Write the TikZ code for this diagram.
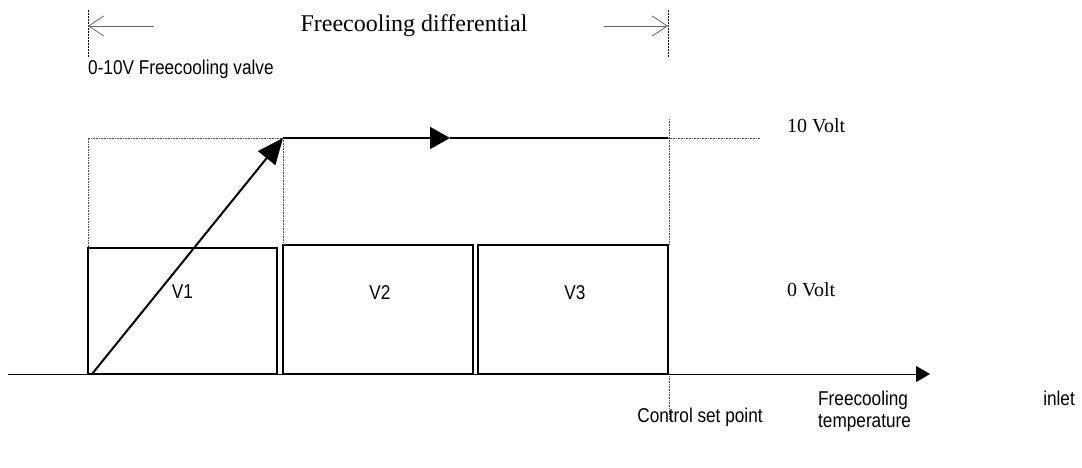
\documentclass[tikz,border=0pt]{standalone}
\usepackage{fontspec}
\setmainfont{Liberation Serif}
\newfontfamily\narrowsans[FakeStretch=0.86]{Liberation Sans}
\usetikzlibrary{arrows.meta,positioning}

\tikzset{
  valvebox/.style={draw, line width=1.6pt, inner sep=0pt},
  sanstext/.style={font=\narrowsans\fontsize{20}{24}\selectfont, inner sep=0pt},
  seriftext/.style={font=\fontsize{20}{24}\selectfont, inner sep=0pt},
  guide/.style={densely dotted, black!70, line width=0.6pt},
  marker/.style={dash pattern=on 2pt off 1pt, line width=0.6pt},
  span/.style={black!60, line width=0.8pt, -{Straight Barb[length=15pt,width=20pt]}},
  signal/.style={line width=2pt},
}

\begin{document}
\begin{tikzpicture}[x=1pt,y=-1pt]
  \useasboundingbox (0,0) rectangle (1082,468);

  % Differential span at the top
  \coordinate (dleft)  at (88,26);
  \coordinate (dright) at (668,26);
  \draw[marker] (88,10) -- (dleft) -- (88,57);
  \draw[marker] (668,10) -- (dright) -- (668,57);
  \draw[span] (154,26) -- (dleft);
  \draw[span] (604,26) -- (dright);
  \node[seriftext, font=\fontsize{24}{28}\selectfont, anchor=base] (diff) at (414,32) {Freecooling differential};
  \node[sanstext, anchor=base west] (valve) at (88,75) {0-10V Freecooling valve};

  % Valve boxes
  \node[valvebox, minimum width=189pt, minimum height=126pt] (v1) at (182.5,311) {};
  \node[valvebox, minimum width=190pt, minimum height=129pt] (v2) at (378,309.5) {};
  \node[valvebox, minimum width=190pt, minimum height=129pt] (v3) at (573,309.5) {};
  \node[sanstext] (v1lab) at ([yshift=19pt]v1.center) {V1};
  \node[sanstext] (v2lab) at ([xshift=2pt,yshift=17pt]v2.center) {V2};
  \node[sanstext] (v3lab) at ([xshift=2pt,yshift=17pt]v3.center) {V3};

  % Axis
  \coordinate (axstart) at (8,374);
  \coordinate (axend)   at (930,374);
  \draw[line width=1pt, -{Triangle[length=14pt,width=16pt]}] (axstart) -- (axend);

  % Valve signal
  \coordinate (origin) at (92,374);
  \coordinate (full)   at (283,138);
  \coordinate (mid)    at (450,138);
  \coordinate (setpt)  at (668,138);
  \draw[guide] (88,247) -- (88,138) -- (full) -- (283,245);
  \draw[guide] (669,119) -- (669,245);
  \draw[guide] (setpt) -- (760,138);
  \draw[guide] (669,376) -- (669,420);
  \draw[signal, -{Triangle[length=26pt,width=22pt]}] (origin) -- (full);
  \draw[signal, -{Triangle[length=20pt,width=22pt]}] (full) -- (mid);
  \draw[signal] (mid) -- (setpt);

  % Volt levels
  \node[seriftext, anchor=base west] (tenv) at (787,133) {10 Volt};
  \node[seriftext, anchor=base west] (zerov) at (787,296) {0 Volt};

  % Bottom labels
  \node[sanstext, anchor=base] (ctrl) at (700,422) {Control set point};
  \node[sanstext, anchor=base west] (fc) at (818,405) {Freecooling};
  \node[sanstext, anchor=base east] (inlet) at (1075,405) {inlet};
  \node[sanstext, anchor=base west] (temp) at (818,427) {temperature};
\end{tikzpicture}
\end{document}
